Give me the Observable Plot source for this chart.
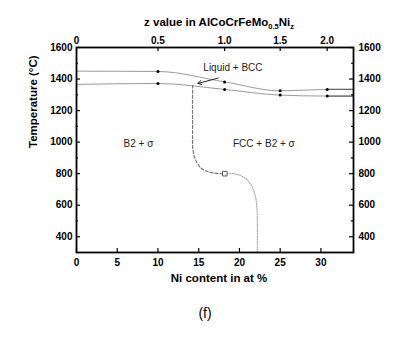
<!DOCTYPE html>
<html><head><meta charset="utf-8">
<script src="https://cdn.jsdelivr.net/npm/d3@7"></script>
<script src="https://cdn.jsdelivr.net/npm/@observablehq/plot@0.6"></script>
<style>body{margin:0;background:#fff} #chart{width:406px;height:353px}</style>
</head><body><div id="chart"></div>
<script>
// Axis ticks
const niTicks = [0, 5, 10, 15, 20, 25, 30];
const tempTicks = [400, 600, 800, 1000, 1200, 1400, 1600];
const tempMinor = [500, 700, 900, 1100, 1300, 1500];
const zLabels = ["0", "0.5", "1.0", "1.5", "2.0"];
const zNi = [0, 10, 18.18, 25, 30.77];

// Upper boundary (liquidus)
const upperNi = [0, 10, 18.18, 25, 30.77, 34];
const upperT  = [1450, 1448, 1382, 1325, 1334, 1334];
// Lower boundary (solidus)
const lowerNi = [0, 10, 18.18, 25, 30.77, 34];
const lowerT  = [1366, 1372, 1334, 1298, 1292, 1292];
// Measured points (z = 0.5 ... 2.0)
const pointNi = [10, 18.18, 25, 30.77];
const pointUpperT = [1448, 1382, 1325, 1334];
const pointLowerT = [1372, 1334, 1298, 1292];

// Dashed phase boundary (B2+sigma | FCC+B2+sigma)
const dashNi = [14.25, 14.25, 14.3, 14.6, 15.2, 16.0, 17.0, 18.2];
const dashT  = [1360, 1100, 950, 890, 840, 815, 803, 800];
// Dotted continuation
const dotNi = [18.2, 19.5, 20.6, 21.4, 21.9, 22.15, 22.2, 22.2];
const dotT  = [800, 798, 775, 730, 670, 580, 450, 300];
// Open square marker
const squareNi = [18.2];
const squareT = [800];

// Annotations
const regionLabels = ["Liquid + BCC", "B2 + σ", "FCC + B2 + σ"];
const regionNi = [19.2, 7.6, 23.0];
const regionT = [1473, 988, 988];
const arrowFrom = [17.4, 1406];
const arrowTo = [14.9, 1372];

const zip = (xs, ys) => xs.map((x, i) => ({ni: x, t: ys[i]}));
const upper = zip(upperNi, upperT);
const lower = zip(lowerNi, lowerT);
const ptsU = zip(pointNi, pointUpperT);
const ptsL = zip(pointNi, pointLowerT);
const dash = zip(dashNi, dashT);
const dot = zip(dotNi, dotT);
const sq = zip(squareNi, squareT);
const regions = regionLabels.map((l, i) => ({label: l, ni: regionNi[i], t: regionT[i]}));

const W = 406, H = 353, mL = 76, mR = 53, mT = 47, mB = 101;
const fw = W - mL - mR, fh = H - mT - mB;
const font = "'Liberation Sans', Arial, Helvetica, sans-serif";
const fmt = d => String(d);

const plot = Plot.plot({
  width: W, height: H,
  marginLeft: mL, marginRight: mR, marginTop: mT, marginBottom: mB,
  style: {fontFamily: font, background: "white", color: "black"},
  x: {domain: [0, 34]},
  y: {domain: [300, 1600]},
  marks: [
    Plot.line(upper, {x: "ni", y: "t", curve: "monotone-x", stroke: "#9a9a9a", strokeWidth: 1}),
    Plot.line(lower, {x: "ni", y: "t", curve: "monotone-x", stroke: "#9a9a9a", strokeWidth: 1}),
    Plot.line(upper.filter(d => d.ni >= 30.77), {x: "ni", y: "t", stroke: "#666", strokeWidth: 1.3}),
    Plot.line(lower.filter(d => d.ni >= 30.77), {x: "ni", y: "t", stroke: "#666", strokeWidth: 1.3}),
    Plot.line(dash, {x: "ni", y: "t", curve: "catmull-rom", stroke: "#777", strokeWidth: 1.2, strokeDasharray: "3,2"}),
    Plot.line(dot, {x: "ni", y: "t", curve: "catmull-rom", stroke: "#aaa", strokeWidth: 1.2, strokeDasharray: "1,1.5"}),
    Plot.dot(ptsU, {x: "ni", y: "t", r: 1.5, fill: "black"}),
    Plot.dot(ptsL, {x: "ni", y: "t", r: 1.5, fill: "black"}),
    Plot.dot(sq, {x: "ni", y: "t", symbol: "square", r: 2.6, stroke: "#555", fill: "white", strokeWidth: 1}),
    Plot.arrow([0], {x1: () => arrowFrom[0], y1: () => arrowFrom[1], x2: () => arrowTo[0], y2: () => arrowTo[1],
      stroke: "#222", strokeWidth: 1, headLength: 6}),
    Plot.text(regions, {x: "ni", y: "t", text: "label", fontSize: 10, fill: "#222"}),
    // inward ticks
    Plot.tickY(tempTicks, {y: d => d, insetRight: fw - 4, stroke: "black", strokeWidth: 1.2}),
    Plot.tickY(tempMinor, {y: d => d, insetRight: fw - 2, stroke: "black", strokeWidth: 1.2}),
    Plot.tickY(tempTicks, {y: d => d, insetLeft: fw - 4, stroke: "black", strokeWidth: 1.2}),
    Plot.tickY(tempMinor, {y: d => d, insetLeft: fw - 2, stroke: "black", strokeWidth: 1.2}),
    Plot.tickX(niTicks, {x: d => d, insetTop: fh - 4, stroke: "black", strokeWidth: 1.2}),
    Plot.tickX(zNi, {x: d => d, insetBottom: fh - 4, stroke: "black", strokeWidth: 1.2}),
    // tick labels
    Plot.axisY({anchor: "left", ticks: tempTicks, tickSize: 0, tickPadding: 4, label: null, fontWeight: "bold", fontSize: 10, tickFormat: fmt}),
    Plot.axisY({anchor: "right", ticks: tempTicks, tickSize: 0, tickPadding: 5, label: null, fontWeight: "bold", fontSize: 10, tickFormat: fmt}),
    Plot.axisX({anchor: "bottom", ticks: niTicks, tickSize: 0, tickPadding: 6, label: null, fontWeight: "bold", fontSize: 10, tickFormat: fmt}),
    Plot.axisX({anchor: "top", ticks: zNi, tickSize: 0, tickPadding: 4, label: null, fontWeight: "bold", fontSize: 10,
      tickFormat: d => zLabels[zNi.indexOf(d)]}),
    Plot.frame({stroke: "black", strokeWidth: 1.8}),
    // titles
    Plot.text(["Ni content in at %"], {frameAnchor: "bottom", dy: 29, dx: 4, fontSize: 11.5, fontWeight: "bold"}),
    Plot.text(["Temperature (°C)"], {frameAnchor: "left", dx: -43, dy: -2, rotate: -90, fontSize: 11.5, fontWeight: "bold"}),
    Plot.text(["(f)"], {frameAnchor: "bottom", dy: 65, dx: -10, fontSize: 14})
  ]
});
document.getElementById("chart").appendChild(plot);

// Top title with subscripts
const svg = d3.select(plot);
const t = svg.append("text")
  .attr("x", 219).attr("y", 25.5)
  .attr("text-anchor", "middle")
  .attr("font-family", font)
  .attr("font-weight", "bold")
  .attr("font-size", 11.5)
  .attr("fill", "black");
t.append("tspan").text("z value in AlCoCrFeMo");
t.append("tspan").attr("font-size", 7.5).attr("dy", 3).text("0.5");
t.append("tspan").attr("dy", -3).text("Ni");
t.append("tspan").attr("font-size", 7.5).attr("dy", 3).text("z");
</script>
</body></html>
